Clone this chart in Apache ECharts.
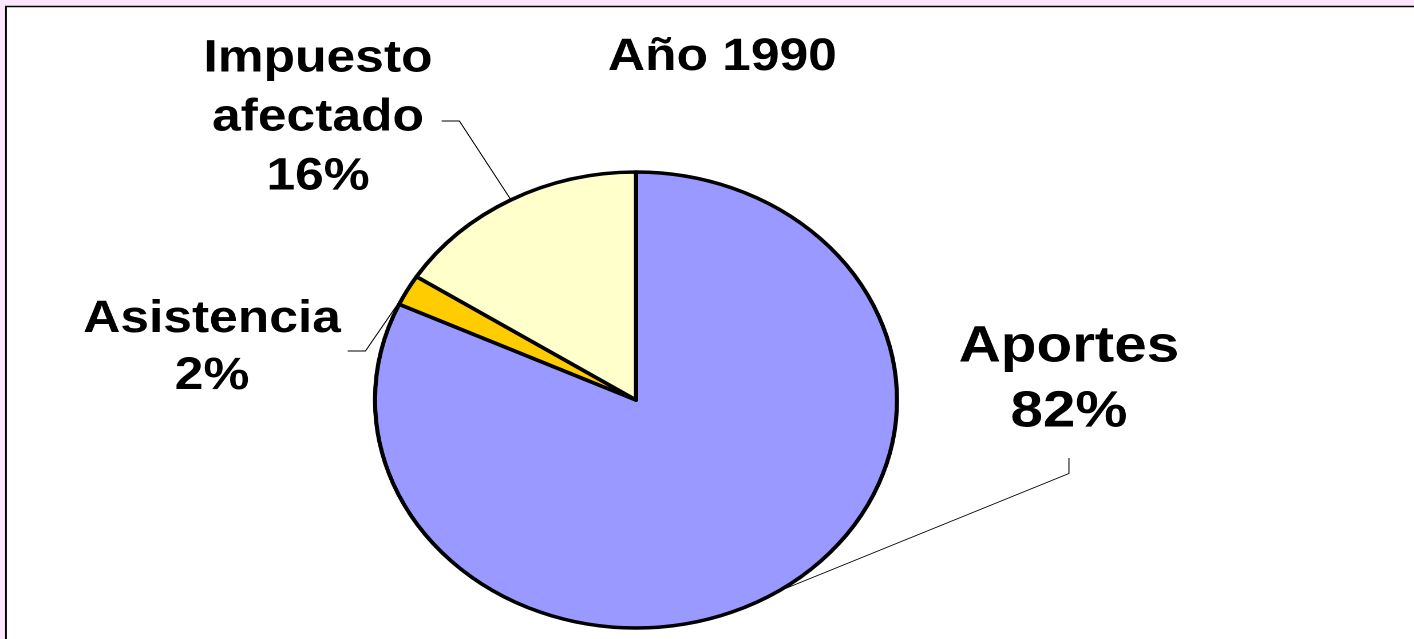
<!DOCTYPE html>
<html>
<head>
<meta charset="utf-8">
<title>Año 1990</title>
<script src="https://cdn.jsdelivr.net/npm/echarts@6/dist/echarts.min.js"></script>
<style>
  html, body { margin: 0; padding: 0; background: #ffe6ff; overflow: hidden; }
  #wrap { position: relative; width: 1414px; height: 639px; overflow: hidden; }
  /* the source picture is stretched sideways: draw at natural width, then stretch it the same way */
  #chart { position: absolute; left: 0; top: 0; width: 1236px; height: 639px; transform-origin: 0 0; transform: scaleX(1.1447); }
</style>
</head>
<body>
<div id="wrap"><div id="chart"></div></div>
<script>
const categories = ['Aportes', 'Asistencia', 'Impuesto afectado']
const shares = [81.9, 2.2, 15.9]
const chartTitle = 'Año 1990'

const sliceColors = ['#9999ff', '#ffcc00', '#ffffcc']
const fontFamily = '"Liberation Sans", Arial, sans-serif'

// label boxes, chart units: text centre x, text top y, font size, line height, padding
const labelBoxes = [
  { cx: 933.8, top: 315, size: 51, lh: 65, pad: [100, 0, 13, 0] },
  { cx: 185.2, top: 291, size: 45, lh: 57, pad: [0, 6, 6, 0] },
  { cx: 277.8, top: 29.5, size: 45, lh: 59, pad: [0, 8, 6, 0] },
]

const chart = echarts.init(document.getElementById('chart'), null, { devicePixelRatio: 2 })

const option = {
  animation: false,
  backgroundColor: '#ffe6ff',
  title: {
    text: chartTitle,
    left: 631,
    top: 35,
    textAlign: 'center',
    padding: 0,
    textStyle: { fontSize: 45, fontWeight: 'bold', fontFamily, color: '#000', lineHeight: 45 },
  },
  graphic: [
    {
      type: 'rect',
      z: -1,
      silent: true,
      shape: { x: 5.2, y: 6.5, width: 1400, height: 700 },
      style: { fill: '#fff', stroke: '#000', lineWidth: 1.5 },
    },
  ],
  series: [
    {
      type: 'pie',
      center: [555.6, 400],
      radius: 228,
      startAngle: 90,
      clockwise: true,
      percentPrecision: 0,
      avoidLabelOverlap: false,
      emphasis: { disabled: true },
      itemStyle: { borderColor: '#000', borderWidth: 3.6 },
      label: {
        show: true,
        position: 'outside',
        color: '#000',
        fontWeight: 'bold',
        fontFamily,
        backgroundColor: 'transparent',
        formatter: p => p.name.replace(' ', '\n') + '\n' + p.percent + '%',
      },
      labelLine: {
        show: true,
        length: 10,
        length2: 15.5,
        lineStyle: { color: '#000', width: 0.9 },
      },
      labelLayout: p => {
        const b = labelBoxes[p.dataIndex]
        return {
          x: b.cx + (b.pad[1] - b.pad[3]) / 2,
          y: b.top - b.pad[0],
          align: 'center',
          verticalAlign: 'top',
        }
      },
      data: categories.map((name, i) => ({
        name,
        value: shares[i],
        itemStyle: { color: sliceColors[i] },
        label: {
          fontSize: labelBoxes[i].size,
          lineHeight: labelBoxes[i].lh,
          padding: labelBoxes[i].pad,
        },
      })),
    },
  ],
}

chart.setOption(option)
</script>
</body>
</html>
